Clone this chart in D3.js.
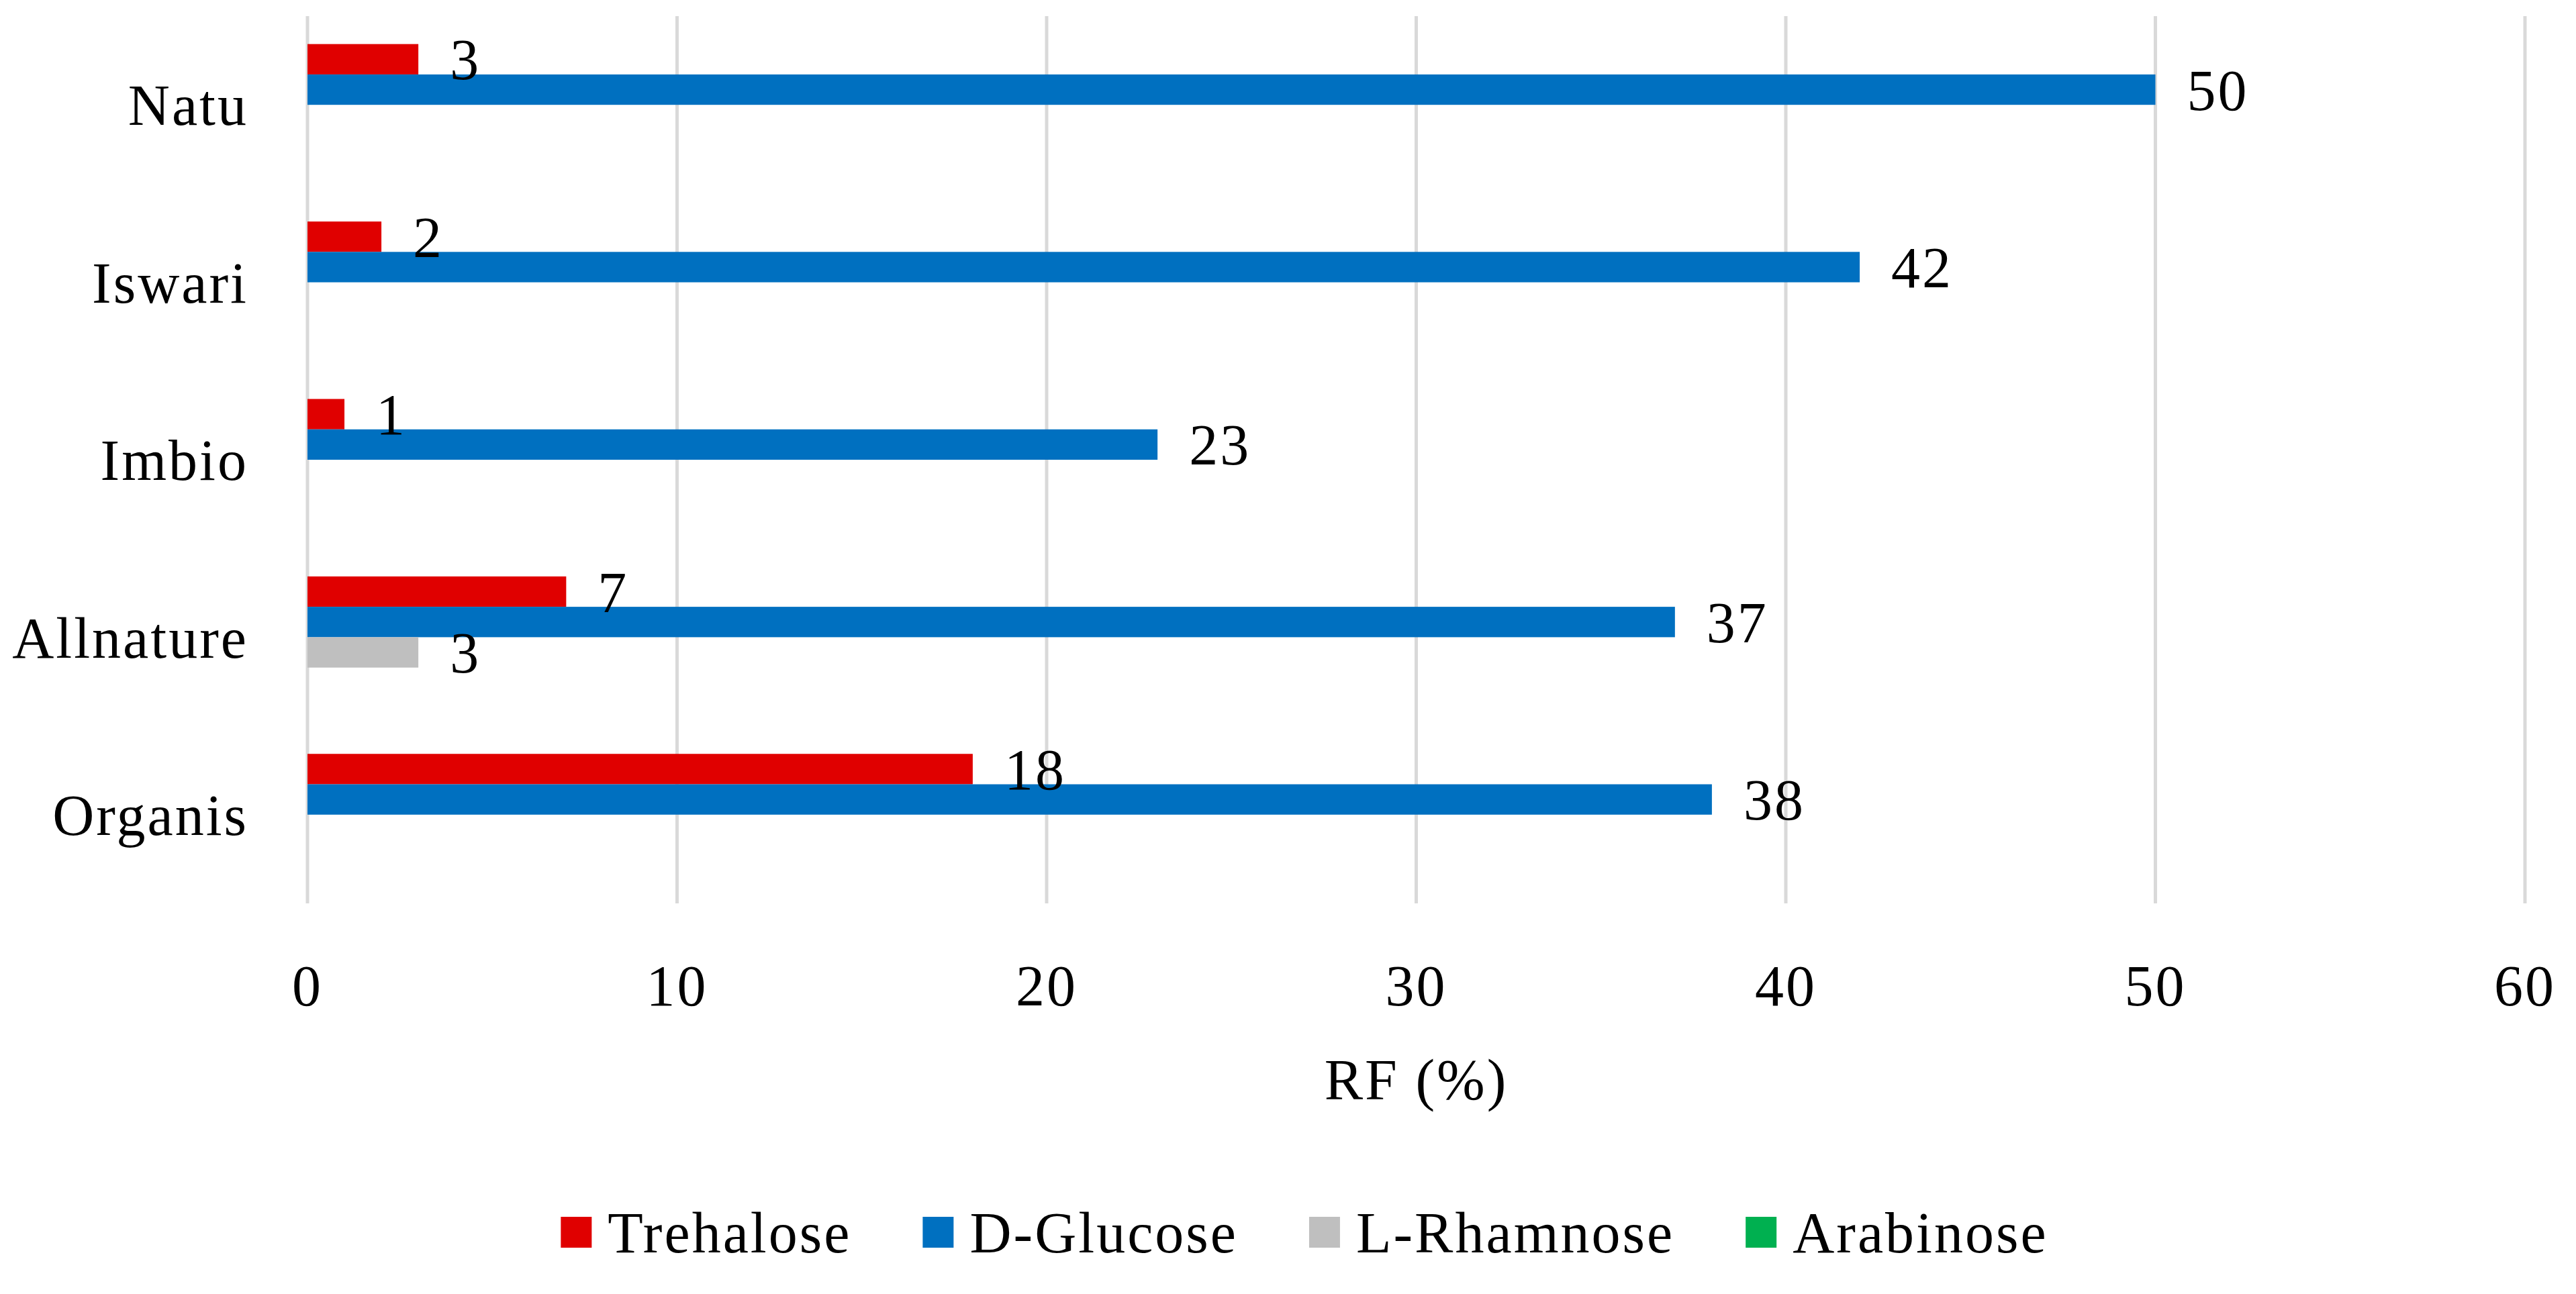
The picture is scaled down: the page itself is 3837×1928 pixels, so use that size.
<!DOCTYPE html>
<html lang="en">
<head>
<meta charset="UTF-8">
<title>RF (%) by brand</title>
<script src="https://d3js.org/d3.v7.min.js"></script>
<style>
  body { margin: 0; background: #fff; }
  text { font-family: "Palatino Linotype", "Book Antiqua", "Liberation Serif", serif; fill: #000; letter-spacing: 3px; }
</style>
</head>
<body>
<div id="chart"></div>
<script>
// data (Excel order: first category drawn at the bottom)
const categories = ['Organis', 'Allnature', 'Imbio', 'Iswari', 'Natu'];
const seriesNames = ['Trehalose', 'D-Glucose', 'L-Rhamnose', 'Arabinose'];
const seriesColors = ['#e00000', '#0070c0', '#bfbfbf', '#00b050'];
const trehalose = [18, 7, 1, 2, 3];
const glucose = [38, 37, 23, 42, 50];
const rhamnose = [0, 3, 0, 0, 0];
const arabinose = [0, 0, 0, 0, 0];
const xTicks = [0, 10, 20, 30, 40, 50, 60];

const W = 3837, H = 1928;
const fontSize = 86;
const plot = { left: 458, right: 3761, top: 24, bottom: 1346 };

const svg = d3.select('#chart').append('svg')
    .attr('width', W)
    .attr('height', H);

const x = d3.scaleLinear().domain([0, 60]).range([plot.left, plot.right]);
// categories run bottom to top
const y = d3.scaleBand().domain(categories).range([plot.bottom, plot.top])
    .paddingInner(0.315).paddingOuter(0.1575);
const ySub = d3.scaleBand().domain(seriesNames).range([0, y.bandwidth()]);

// gridlines
svg.append('g')
    .selectAll('line')
    .data(xTicks)
    .enter().append('line')
    .attr('x1', d => x(d)).attr('x2', d => x(d))
    .attr('y1', plot.top).attr('y2', plot.bottom)
    .attr('stroke', '#d9d9d9')
    .attr('stroke-width', 5);

const allSeries = [trehalose, glucose, rhamnose, arabinose];
const rows = [];
allSeries.forEach((vals, si) => {
    vals.forEach((v, ci) => {
        rows.push({ cat: categories[ci], series: seriesNames[si], color: seriesColors[si], value: v });
    });
});
const shown = rows.filter(d => d.value > 0);

svg.append('g')
    .selectAll('rect')
    .data(shown)
    .enter().append('rect')
    .attr('x', x(0))
    .attr('y', d => y(d.cat) + ySub(d.series))
    .attr('width', d => x(d.value) - x(0))
    .attr('height', ySub.bandwidth())
    .attr('fill', d => d.color);

// value labels
svg.append('g')
    .selectAll('text')
    .data(shown)
    .enter().append('text')
    .attr('x', d => x(d.value) + 47)
    .attr('y', d => y(d.cat) + ySub(d.series) + ySub.bandwidth() / 2)
    .attr('dy', '0.35em')
    .style('font-size', fontSize + 'px')
    .text(d => d.value);

// category labels
svg.append('g')
    .selectAll('text')
    .data(categories)
    .enter().append('text')
    .attr('x', plot.left - 88)
    .attr('y', d => y(d) + y.bandwidth() / 2)
    .attr('dy', '0.35em')
    .attr('text-anchor', 'end')
    .style('font-size', fontSize + 'px')
    .text(d => d);

// x tick labels
svg.append('g')
    .selectAll('text')
    .data(xTicks)
    .enter().append('text')
    .attr('x', d => x(d))
    .attr('y', 1468)
    .attr('dy', '0.35em')
    .attr('text-anchor', 'middle')
    .style('font-size', fontSize + 'px')
    .text(d => d);

// axis title
svg.append('text')
    .attr('x', (plot.left + plot.right) / 2)
    .attr('y', 1608)
    .attr('dy', '0.35em')
    .attr('text-anchor', 'middle')
    .style('font-size', fontSize + 'px')
    .text('RF (%)');

// legend
const legend = svg.append('g');
const sw = 46, swGap = 24, itemGap = 106, legY = 1836;
let cx = 0;
seriesNames.forEach((name, i) => {
    const item = legend.append('g').attr('transform', `translate(${cx},0)`);
    item.append('rect')
        .attr('x', 0).attr('y', legY - sw / 2)
        .attr('width', sw).attr('height', sw)
        .attr('fill', seriesColors[i]);
    const t = item.append('text')
        .attr('x', sw + swGap)
        .attr('y', legY)
        .attr('dy', '0.35em')
        .style('font-size', fontSize + 'px')
        .text(name);
    cx += sw + swGap + t.node().getComputedTextLength() + itemGap;
});
const legW = cx - itemGap;
legend.attr('transform', `translate(${1943 - legW / 2},0)`);
</script>
</body>
</html>
